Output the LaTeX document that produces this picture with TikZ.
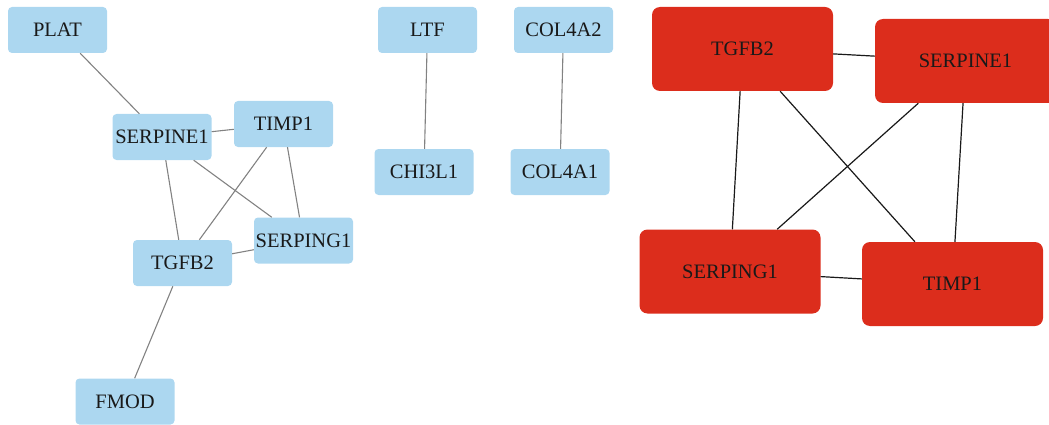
\documentclass[tikz,border=0pt]{standalone}
\usepackage{fontspec}
\setmainfont{Liberation Serif}
\definecolor{nodeblue}{RGB}{172,215,240}
\definecolor{nodered}{RGB}{220,45,28}
\definecolor{edgegray}{RGB}{130,130,130}
\begin{document}
\begin{tikzpicture}[x=1pt,y=-1pt,
  bluebox/.style={fill=nodeblue,rounded corners=4pt,minimum width=99pt,minimum height=46pt,inner sep=0pt,font=\fontsize{20.5}{24}\selectfont,text=black!90},
  redbox/.style={fill=nodered,rounded corners=8pt,minimum width=181pt,minimum height=84pt,inner sep=0pt,font=\fontsize{20.5}{24}\selectfont,text=black!90},
  grayedge/.style={draw=edgegray,line width=1.1pt},
  blackedge/.style={draw=black!90,line width=1.2pt}]
\useasboundingbox (0,0) rectangle (1049,425);
\clip (0,0) rectangle (1049,425);
% blue group
\node[bluebox] (plat) at (57.5,30) {PLAT};
\node[bluebox] (serpine) at (162,137) {SERPINE1};
\node[bluebox] (timp) at (283.5,124) {TIMP1};
\node[bluebox] (serping) at (303.5,240.5) {SERPING1};
\node[bluebox] (tgfb) at (182.5,263) {TGFB2};
\node[bluebox] (fmod) at (125,401.5) {FMOD};
\node[bluebox] (ltf) at (427.5,30) {LTF};
\node[bluebox] (chi) at (424,172) {CHI3L1};
\node[bluebox] (cola2) at (563.5,30) {COL4A2};
\node[bluebox] (cola1) at (560,172) {COL4A1};
\draw[grayedge] (plat) -- (serpine);
\draw[grayedge] (serpine) -- (timp);
\draw[grayedge] (serpine) -- (tgfb);
\draw[grayedge] (serpine) -- (serping);
\draw[grayedge] (timp) -- (tgfb);
\draw[grayedge] (timp) -- (serping);
\draw[grayedge] (tgfb) -- (serping);
\draw[grayedge] (tgfb) -- (fmod);
\draw[grayedge] (ltf) -- (chi);
\draw[grayedge] (cola2) -- (cola1);
% red group
\node[redbox] (rtgfb) at (742.5,49) {TGFB2};
\node[redbox] (rserpine) at (965.5,61) {SERPINE1};
\node[redbox] (rserping) at (730,271.5) {SERPING1};
\node[redbox] (rtimp) at (952.5,284) {TIMP1};
\draw[blackedge] (rtgfb) -- (rserpine);
\draw[blackedge] (rtgfb) -- (rserping);
\draw[blackedge] (rtgfb) -- (rtimp);
\draw[blackedge] (rserpine) -- (rserping);
\draw[blackedge] (rserpine) -- (rtimp);
\draw[blackedge] (rserping) -- (rtimp);
\end{tikzpicture}
\end{document}
